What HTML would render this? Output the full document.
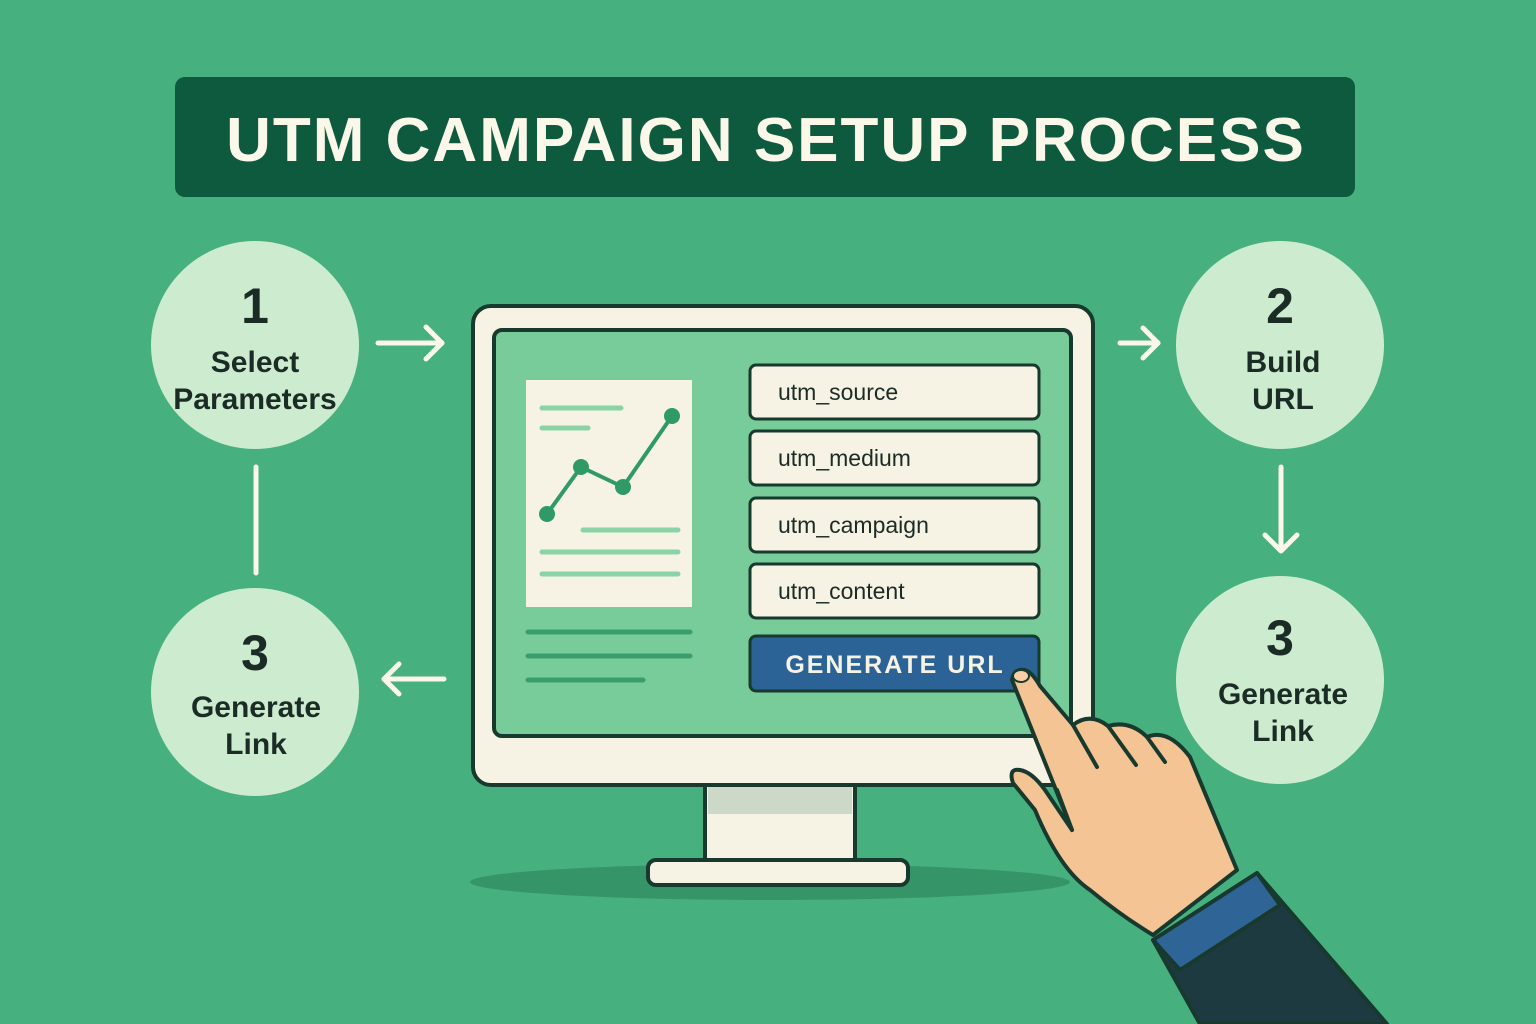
<!DOCTYPE html>
<html><head><meta charset="utf-8"><style>
html,body{margin:0;padding:0;background:#47b07f;}
svg{display:block}
text{font-family:"Liberation Sans","DejaVu Sans",sans-serif;}
</style></head><body>
<svg width="1536" height="1024" viewBox="0 0 1536 1024" xmlns="http://www.w3.org/2000/svg">
<rect width="1536" height="1024" fill="#47b07f"/>
<!-- title -->
<rect x="175" y="77" width="1180" height="120" rx="10" fill="#0e5a3f"/>
<text x="766" y="161" text-anchor="middle" font-size="62" font-weight="bold" fill="#fbf8ea" letter-spacing="2">UTM CAMPAIGN SETUP PROCESS</text>
<!-- circles -->
<g fill="#cdeccf">
<circle cx="255" cy="345" r="104"/>
<circle cx="1280" cy="345" r="104"/>
<circle cx="255" cy="692" r="104"/>
<circle cx="1280" cy="680" r="104"/>
</g>
<g fill="#1b2b26" text-anchor="middle" font-weight="bold">
<text x="255" y="323" font-size="50">1</text>
<text x="255" y="372" font-size="30">Select</text>
<text x="255" y="409" font-size="30">Parameters</text>
<text x="1280" y="323" font-size="50">2</text>
<text x="1283" y="372" font-size="30">Build</text>
<text x="1283" y="409" font-size="30">URL</text>
<text x="255" y="670" font-size="50">3</text>
<text x="256" y="717" font-size="30">Generate</text>
<text x="256" y="754" font-size="30">Link</text>
<text x="1280" y="655" font-size="50">3</text>
<text x="1283" y="704" font-size="30">Generate</text>
<text x="1283" y="741" font-size="30">Link</text>
</g>
<!-- arrows -->
<g stroke="#fbf8ea" stroke-width="5" fill="none" stroke-linecap="round" stroke-linejoin="round">
<line x1="378" y1="343" x2="442" y2="343"/><polyline points="426,327 442,343 426,359"/>
<line x1="1120" y1="343" x2="1158" y2="343"/><polyline points="1143,328 1158,343 1143,358"/>
<line x1="1281" y1="467" x2="1281" y2="550"/><polyline points="1265,535 1281,551 1297,535"/>
<line x1="384" y1="679" x2="444" y2="679"/><polyline points="399,664 384,679 399,694"/>
<line x1="256" y1="467" x2="256" y2="573"/>
</g>
<!-- shadow -->
<ellipse cx="770" cy="882" rx="300" ry="18" fill="#359568"/>
<!-- monitor -->
<g stroke="#183a2e" stroke-width="4">
<rect x="705" y="783" width="150" height="80" fill="#f6f3e4"/>
<rect x="708" y="786" width="144" height="28" fill="#ccd9c9" stroke="none"/>
<rect x="648" y="860" width="260" height="25" rx="8" fill="#f6f3e4"/>
<rect x="473" y="306" width="620" height="479" rx="18" fill="#f6f3e4"/>
<rect x="494" y="330" width="577" height="406" rx="8" fill="#78cc9a"/>
</g>
<!-- doc -->
<rect x="526" y="380" width="166" height="227" fill="#f6f3e4"/>
<g stroke="#8ad3a6" stroke-width="5" stroke-linecap="round">
<line x1="542" y1="408" x2="621" y2="408"/>
<line x1="542" y1="428" x2="588" y2="428"/>
<line x1="583" y1="530" x2="678" y2="530"/>
<line x1="542" y1="552" x2="678" y2="552"/>
<line x1="542" y1="574" x2="678" y2="574"/>
</g>
<g stroke="#3a9e6e" stroke-width="5" stroke-linecap="round">
<line x1="528" y1="632" x2="690" y2="632"/>
<line x1="528" y1="656" x2="690" y2="656"/>
<line x1="528" y1="680" x2="643" y2="680"/>
</g>
<polyline points="547,514 581,467 623,487 672,416" fill="none" stroke="#2f9a66" stroke-width="4"/>
<g fill="#2f9a66"><circle cx="547" cy="514" r="8"/><circle cx="581" cy="467" r="8"/><circle cx="623" cy="487" r="8"/><circle cx="672" cy="416" r="8"/></g>
<!-- fields -->
<g fill="#f6f3e4" stroke="#183a2e" stroke-width="3">
<rect x="750" y="365" width="289" height="54" rx="6"/>
<rect x="750" y="431" width="289" height="54" rx="6"/>
<rect x="750" y="498" width="289" height="54" rx="6"/>
<rect x="750" y="564" width="289" height="54" rx="6"/>
<rect x="750" y="636" width="289" height="55" rx="6" fill="#2b6396"/>
</g>
<g font-size="23" fill="#1b2b26">
<text x="778" y="400">utm_source</text>
<text x="778" y="466">utm_medium</text>
<text x="778" y="533">utm_campaign</text>
<text x="778" y="599">utm_content</text>
</g>
<text x="895" y="673" text-anchor="middle" font-size="25" font-weight="bold" fill="#f6f3e4" letter-spacing="2">GENERATE URL</text>
<!-- hand -->
<g stroke="#183a2e" stroke-width="4" stroke-linejoin="round" stroke-linecap="round">
<path d="M1153,940 L1257,873 L1387,1024 L1200,1024 Z" fill="#1d3a40"/>
<path d="M1153,940 L1257,873 L1280,905 L1180,970 Z" fill="#2f6496"/>
<path d="M1012,680 Q1014,668 1025,670 Q1032,672 1040,686 L1073,725 Q1090,712 1108,726 Q1130,720 1147,737 Q1168,728 1190,757 L1237,870 L1153,935 Q1120,915 1090,890 Q1060,870 1035,810 L1013,783 Q1008,768 1020,770 Q1032,772 1045,790 L1072,830 Z" fill="#f4c494"/>
<path d="M1073,725 L1097,767 M1108,726 L1136,765 M1147,737 L1165,762 M1072,830 L1057,790" fill="none"/>
<ellipse cx="1021" cy="676" rx="8" ry="6" fill="#f6cfa6" stroke-width="2"/>
</g>
</svg>
</body></html>
